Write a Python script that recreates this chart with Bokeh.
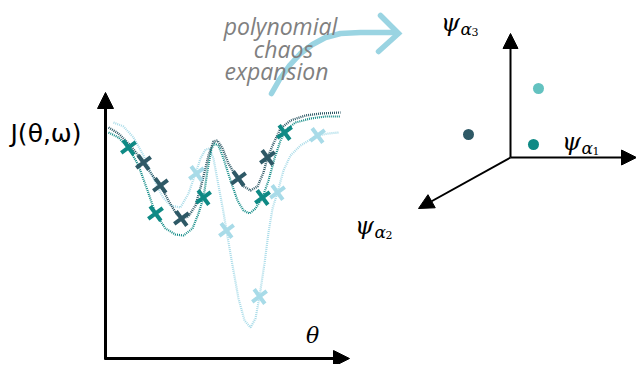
from bokeh.plotting import figure
from bokeh.models import Range1d, Arrow, NormalHead
from bokeh.core.properties import value
from bokeh.embed import file_html
from bokeh.resources import INLINE

# ---- data (diagram coordinates, y grows downward) ----
dark_x = [108, 118, 130, 143, 152, 160, 168, 175, 181, 188, 195, 202, 208, 213, 217, 222, 228, 235, 242, 250, 257, 263, 267, 273, 280, 290, 305, 320, 340]
dark_y = [127, 133, 145, 162, 175, 185, 200, 212, 218, 216, 205, 180, 155, 141, 140, 148, 163, 175, 185, 190, 186, 172, 157, 143, 128, 120, 115, 113, 112]
teal_x = [108, 118, 128, 138, 147, 155, 165, 175, 183, 192, 198, 203, 207, 211, 214, 218, 223, 230, 237, 243, 249, 255, 262, 268, 274, 280, 286, 295, 310, 325, 340]
teal_y = [132, 137, 147, 165, 190, 213, 228, 234, 235, 228, 213, 197, 170, 148, 143, 145, 158, 180, 200, 210, 213, 208, 197, 180, 158, 140, 129, 122, 118, 116, 116]
light_x = [113, 123, 133, 143, 153, 162, 170, 180, 188, 195, 200, 205, 209, 213, 218, 223, 226, 232, 238, 244, 250, 255, 259, 264, 268, 272, 277, 283, 290, 300, 310, 317, 328, 338]
light_y = [122, 126, 137, 155, 178, 196, 205, 207, 193, 173, 158, 149, 148, 158, 185, 212, 230, 265, 298, 320, 327, 318, 296, 263, 232, 208, 192, 170, 155, 145, 139, 135, 133, 132]

dark_cx = [143, 160, 181, 238, 267]
dark_cy = [162, 185, 218, 178, 157]
teal_cx = [128, 155, 203, 262, 284]
teal_cy = [147, 213, 197, 197, 132]
light_cx = [196, 226, 259, 277, 317]
light_cy = [173, 230, 296, 192, 135]

pce_x = [271, 279, 289, 300, 312, 325, 340, 360, 380, 396]
pce_y = [93, 79, 65, 53, 44, 37, 33, 32, 32, 32]
head_x = [380, 398, 378]
head_y = [15, 33, 51]

dot_x = [538, 468, 533]
dot_y = [88, 134, 144]
dot_colors = ["#63c2c0", "#2e5966", "#0f8a85"]

pce_words = ["polynomial", "chaos", "expansion"]
pce_wx = [280, 283, 276]
pce_wy = [25, 48, 70]

psi_x = [450, 571, 364]
psi_y = [22, 141, 225]
sub_a = ["3", "1", "2"]

DARK, TEAL, LIGHT = "#2e5966", "#0f8a85", "#a8dbe8"

p = figure(width=636, height=364, output_backend="svg", toolbar_location=None,
           x_range=Range1d(0, 636), y_range=Range1d(364, 0), min_border=0)
p.axis.visible = False
p.grid.visible = False
p.outline_line_color = None
p.background_fill_color = "white"

# curves
p.line(light_x, light_y, line_color=LIGHT, line_width=2.2, line_dash="1 1")
p.line(teal_x, teal_y, line_color=TEAL, line_width=2.2, line_dash="1 1")
p.line(dark_x, dark_y, line_color=DARK, line_width=2.4, line_dash="1 1")

# crosses
for cx, cy, c in [(light_cx, light_cy, LIGHT), (teal_cx, teal_cy, TEAL), (dark_cx, dark_cy, DARK)]:
    p.scatter(cx, cy, marker="x", size=18, line_color=c, line_width=4, angle=-0.15)

# left axes
p.add_layout(Arrow(end=NormalHead(size=16, fill_color="black", line_color="black"),
                   x_start=105, y_start=359, x_end=105, y_end=92, line_width=3))
p.add_layout(Arrow(end=NormalHead(size=16, fill_color="black", line_color="black"),
                   x_start=104, y_start=358, x_end=349, y_end=358, line_width=3))

# right 3D axes
for xe, ye in [(510, 33), (636, 157), (418, 208)]:
    p.add_layout(Arrow(end=NormalHead(size=15, fill_color="black", line_color="black"),
                       x_start=510, y_start=157, x_end=xe, y_end=ye, line_width=2))

p.scatter(dot_x, dot_y, size=11, fill_color=dot_colors, line_color=None)

# pce arrow
p.line(pce_x, pce_y, line_color="#9ad4e2", line_width=5.5, line_cap="round", line_join="round")
p.line(head_x, head_y, line_color="#9ad4e2", line_width=5.5, line_cap="round", line_join="miter")

p.text(pce_wx, pce_wy, text=pce_words, text_font=value("Open Sans"), text_font_style="italic",
       text_font_size="23px", text_color="#808080", text_align="center", text_baseline="middle")

# labels
p.text([10], [133], text=["J(θ,ω)"], text_font=value("DejaVu Sans"), text_font_size="25px",
       text_color="black", text_align="left", text_baseline="middle")
p.text([312], [335], text=["θ"], text_font=value("DejaVu Serif"), text_font_style="italic",
       text_font_size="22px", text_align="center", text_baseline="middle")

p.text(psi_x, psi_y, text=["ψ"] * 3, text_font=value("DejaVu Serif"), text_font_style="italic",
       text_font_size="24px", text_align="center", text_baseline="middle")
p.text([x + 10 for x in psi_x], [y + 6 for y in psi_y], text=["α"] * 3, text_font=value("DejaVu Serif"),
       text_font_style="italic", text_font_size="17px", text_align="left", text_baseline="middle")
p.text([x + 21 for x in psi_x], [y + 9 for y in psi_y], text=sub_a, text_font=value("DejaVu Serif"),
       text_font_size="11px", text_align="left", text_baseline="middle")

open("out.html", "w").write(file_html(p, INLINE))
